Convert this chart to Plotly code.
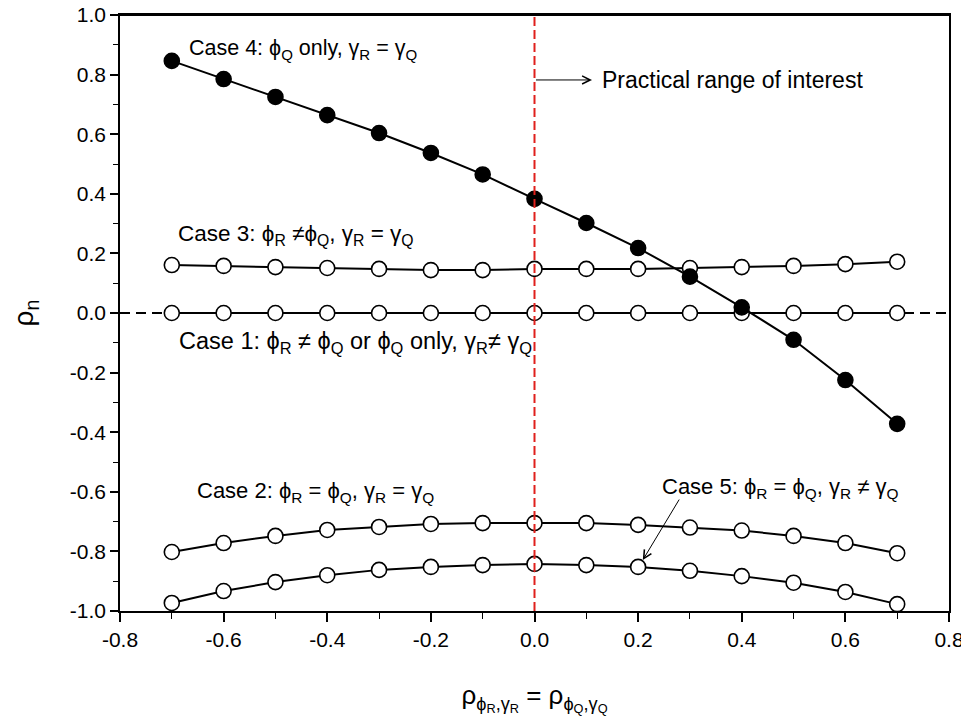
import plotly.graph_objects as go

rho = [-0.7, -0.6, -0.5, -0.4, -0.3, -0.2, -0.1, 0.0, 0.1, 0.2, 0.3, 0.4, 0.5, 0.6, 0.7]
case1 = [0.0] * 15
case2 = [-0.802, -0.772, -0.748, -0.728, -0.718, -0.708, -0.705, -0.705, -0.705, -0.711, -0.720, -0.730, -0.748, -0.772, -0.806]
case3 = [0.161, 0.158, 0.154, 0.151, 0.148, 0.144, 0.144, 0.148, 0.148, 0.148, 0.151, 0.154, 0.158, 0.164, 0.172]
case4 = [0.846, 0.785, 0.725, 0.664, 0.604, 0.537, 0.465, 0.383, 0.302, 0.218, 0.122, 0.019, -0.090, -0.225, -0.372]
case5 = [-0.973, -0.933, -0.903, -0.880, -0.862, -0.852, -0.846, -0.842, -0.846, -0.852, -0.865, -0.883, -0.905, -0.936, -0.977]

xticks = [-0.8, -0.6, -0.4, -0.2, 0.0, 0.2, 0.4, 0.6, 0.8]
yticks = [-1.0, -0.8, -0.6, -0.4, -0.2, 0.0, 0.2, 0.4, 0.6, 0.8, 1.0]

FONT = "Liberation Sans, Arial, sans-serif"

fig = go.Figure()

def open_series(y):
    fig.add_trace(go.Scatter(
        x=rho, y=y, mode="lines+markers",
        line=dict(color="black", width=2),
        marker=dict(symbol="circle", size=15, color="white",
                    line=dict(color="black", width=1.6)),
        showlegend=False, hoverinfo="skip"))

open_series(case1)
open_series(case3)
open_series(case2)
open_series(case5)
fig.add_trace(go.Scatter(
    x=rho, y=case4, mode="lines+markers",
    line=dict(color="black", width=2),
    marker=dict(symbol="circle", size=15, color="black",
                line=dict(color="black", width=1.6)),
    showlegend=False, hoverinfo="skip"))

# reference lines
fig.add_shape(type="line", xref="paper", yref="y", x0=0, x1=1, y0=0, y1=0,
              line=dict(color="black", width=1.8, dash="10px,6px"), layer="below")
fig.add_shape(type="line", xref="x", yref="paper", x0=0, x1=0, y0=0, y1=1,
              line=dict(color="#e0201c", width=2, dash="9px,4px"), layer="above")
# frame top edge
fig.add_shape(type="line", xref="paper", yref="paper", x0=0, x1=1, y0=1, y1=1,
              line=dict(color="black", width=2), layer="above")

ann_font = dict(family=FONT, size=22, color="black")
fig.add_annotation(x=-0.671, y=0.883, xref="x", yref="y", xanchor="left", yanchor="middle",
                   text="Case 4: ϕ<sub>Q</sub> only, γ<sub>R</sub> = γ<sub>Q</sub>",
                   showarrow=False, font=dict(family=FONT, size=21.5, color="black"))
fig.add_annotation(x=-0.692, y=0.262, xref="x", yref="y", xanchor="left", yanchor="middle",
                   text="Case 3: ϕ<sub>R</sub> ≠ϕ<sub>Q</sub>, γ<sub>R</sub> = γ<sub>Q</sub>",
                   showarrow=False, font=dict(family=FONT, size=22.5, color="black"))
fig.add_annotation(x=-0.690, y=-0.10, xref="x", yref="y", xanchor="left", yanchor="middle",
                   text="Case 1: ϕ<sub>R</sub> ≠ ϕ<sub>Q</sub> or ϕ<sub>Q</sub> only, γ<sub>R</sub>≠ γ<sub>Q</sub>",
                   showarrow=False, font=dict(family=FONT, size=23.5, color="black"))
fig.add_annotation(x=-0.655, y=-0.60, xref="x", yref="y", xanchor="left", yanchor="middle",
                   text="Case 2: ϕ<sub>R</sub> = ϕ<sub>Q</sub>, γ<sub>R</sub> = γ<sub>Q</sub>",
                   showarrow=False, font=ann_font)
fig.add_annotation(x=0.242, y=-0.587, xref="x", yref="y", xanchor="left", yanchor="middle",
                   text="Case 5: ϕ<sub>R</sub> = ϕ<sub>Q</sub>, γ<sub>R</sub> ≠ γ<sub>Q</sub>",
                   showarrow=False, font=ann_font)
fig.add_annotation(x=0.126, y=0.782, xref="x", yref="y", xanchor="left", yanchor="middle",
                   text="Practical range of interest",
                   showarrow=False, font=dict(family=FONT, size=23, color="black"))
# arrows
fig.add_annotation(x=0.111, y=0.782, ax=0.0, ay=0.782, xref="x", yref="y",
                   axref="x", ayref="y", text="", showarrow=True,
                   arrowhead=5, arrowsize=1.6, arrowwidth=1, arrowcolor="black")
fig.add_annotation(x=0.209, y=-0.829, ax=0.281, ay=-0.621, xref="x", yref="y",
                   axref="x", ayref="y", text="", showarrow=True,
                   arrowhead=5, arrowsize=1.6, arrowwidth=1, arrowcolor="black")

# page body adds an 8px margin, so the figure is sized/offset to compensate
fig.update_layout(
    width=961, height=720,
    margin=dict(l=112, r=20, t=7, b=117, autoexpand=False),
    paper_bgcolor="white", plot_bgcolor="white",
    font=dict(family=FONT, color="black"),
    xaxis=dict(range=[-0.8, 0.8], tickmode="array", tickvals=xticks,
               ticktext=[f"{v:.1f}" for v in xticks],
               ticks="outside", ticklen=9, tickwidth=1.5, tickcolor="black",
               minor=dict(dtick=0.1, ticks="outside", ticklen=6, tickwidth=1.2, tickcolor="black"),
               showline=True, linecolor="black", linewidth=1.5, mirror=True,
               showgrid=False, zeroline=False, automargin=False,
               ticklabeloverflow="allow",
               tickfont=dict(size=21, family=FONT),
               title=dict(text="ρ<sub>ϕ<sub>R</sub>,γ<sub>R</sub></sub> = ρ<sub>ϕ<sub>Q</sub>,γ<sub>Q</sub></sub>",
                          font=dict(size=26, family=FONT), standoff=36)),
    yaxis=dict(range=[-1.0, 1.0], tickmode="array", tickvals=yticks,
               ticktext=[f"{v:.1f}" for v in yticks],
               ticks="outside", ticklen=8, tickwidth=1.5, tickcolor="black",
               minor=dict(dtick=0.1, ticks="outside", ticklen=5, tickwidth=1.2, tickcolor="black"),
               showline=True, linecolor="black", linewidth=1.5, mirror=True,
               showgrid=False, zeroline=False, automargin=False,
               ticklabeloverflow="allow",
               tickfont=dict(size=21, family=FONT),
               title=dict(text="ρ<sub>n</sub>", font=dict(size=28, family=FONT), standoff=40)),
)

fig.write_html("out.html")
